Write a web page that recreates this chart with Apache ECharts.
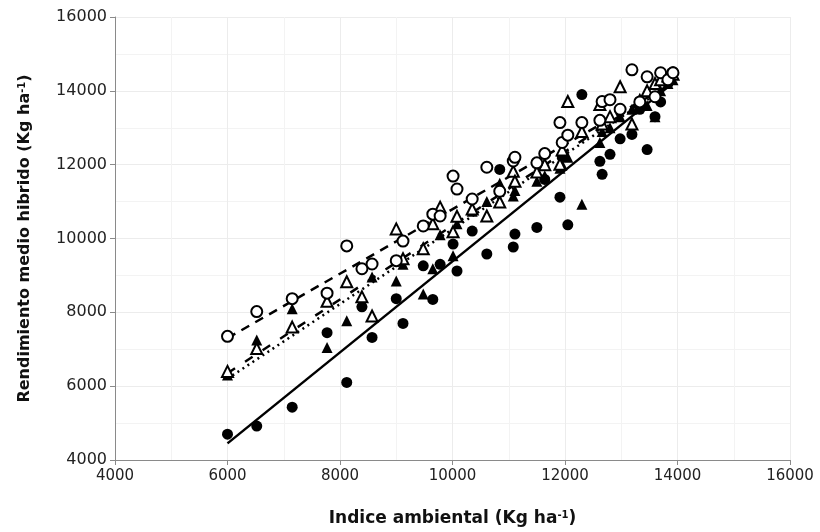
<!DOCTYPE html>
<html><head><meta charset="utf-8">
<script src="https://cdn.jsdelivr.net/npm/echarts@6/dist/echarts.min.js"></script>
<style>html,body{margin:0;padding:0;background:#fff}#c{width:820px;height:532px}</style>
</head><body><div id="c"></div>
<script>
// Environment index (x) shared by all hybrids
const envIndex = [6000,6520,7150,7770,8120,8390,8570,9000,9120,9480,9650,9780,10010,10080,10350,10610,10840,11080,11110,11500,11640,11910,11950,12050,12300,12620,12660,12800,12980,13190,13330,13460,13600,13700,13830,13920];
// Open circles
const openCircle = [7350,8020,8370,8520,9800,9180,9310,9400,9930,10340,10660,10610,11690,11340,11070,11930,11280,12100,12200,12050,12300,13140,12600,12800,13140,13200,13710,13760,13500,14570,13700,14380,13840,14490,14300,14490];
// Open triangles
const openTriangle = [6400,7020,7600,8300,8830,8420,7900,10260,9450,9720,10400,10850,10180,10600,10800,10610,10990,11820,11550,11800,12000,12010,12400,13710,12900,13630,13100,13300,14110,13100,13700,14000,14200,14300,14400,14450];
// Filled triangles
const filledTriangle = [6300,7250,8100,7050,7770,8290,8960,8850,9300,8500,9180,10100,9530,10400,10740,11000,11500,11150,11300,11550,11700,11900,12000,12200,10930,12600,12900,13000,13300,13500,13800,13600,13300,14000,14200,14300];
// Filled circles
const filledCircle = [4700,4920,5430,7450,6100,8150,7320,8370,7700,9260,8350,9300,9850,9120,10200,9580,11870,9770,10120,10300,11600,11120,12230,10370,13900,12090,11740,12280,12700,12820,13500,12410,13300,13700,14200,14520];
// Fitted lines: [x, y] at both ends
const trendOpenCircle = [[6000,7300],[13900,14200]];
const trendOpenTriangle = [[6000,6350],[13950,14300]];
const trendFilledTriangle = [[6000,6200],[13950,14250]];
const trendFilledCircle = [[6000,4450],[13950,14250]];
const axisTicks = {min:4000, max:16000, interval:2000};

const pair = ys => envIndex.map((x,i)=>[x, ys[i]]);
const chart = echarts.init(document.getElementById('c'), null, {renderer:'canvas'});
const openStyle = {color:'#fff', borderColor:'#000', borderWidth:2, opacity:1};
const fillStyle = {color:'#000', borderColor:'#000', borderWidth:0, opacity:1};
const lineSeries = (d, type, w) => ({type:'line', data:d, showSymbol:false, symbol:'none', silent:true,
  lineStyle:{color:'#000', width:w, type:type}, z:1});
const FONT = 'DejaVu Sans, Arial, sans-serif';
const nameStyle = size => ({color:'#111', fontSize:size, fontWeight:'bold', fontFamily:FONT,
    rich:{sup:{fontSize:10, fontWeight:'bold', fontFamily:FONT, verticalAlign:'top', color:'#111', padding:[0,0,6,0]},
          b:{fontSize:size, fontWeight:'bold', fontFamily:FONT, color:'#111'}}});
const axisCommon = {
  min:axisTicks.min, max:axisTicks.max, interval:axisTicks.interval,
  axisLine:{show:true, lineStyle:{color:'#8a8a8a', width:1}},
  axisTick:{show:true, length:5, lineStyle:{color:'#8a8a8a'}},
  splitLine:{show:true, lineStyle:{color:'#ececec', width:1}},
  minorSplitLine:{show:true, lineStyle:{color:'#f3f3f3', width:1}},
  minorTick:{show:false, splitNumber:2}
};
chart.setOption({
  animation:false,
  backgroundColor:'#fff',
  grid:{left:115, right:30, top:17, bottom:70, containLabel:false},
  xAxis:Object.assign({}, axisCommon, {type:'value', name:'{b|Indice ambiental (Kg ha}{sup|-1}{b|)}',
    nameLocation:'middle', nameGap:50, nameTextStyle:nameStyle(17),
    axisLabel:{color:'#222', fontSize:15, fontFamily:FONT, margin:9, formatter:v => String(v)}}),
  yAxis:Object.assign({}, axisCommon, {type:'value', name:'{b|Rendimiento medio hibrido (Kg ha}{sup|-1}{b|)}',
    nameLocation:'middle', nameGap:82, nameTextStyle:nameStyle(16),
    axisLabel:{color:'#222', fontSize:16, fontFamily:FONT, margin:8, formatter:v => String(v)}}),
  series:[
    lineSeries(trendFilledCircle, 'solid', 2.5),
    lineSeries(trendFilledTriangle, [2,4], 2.5),
    lineSeries(trendOpenTriangle, [9,12], 2.5),
    lineSeries(trendOpenCircle, [9,7], 2.5),
    {type:'scatter', data:pair(filledCircle), symbol:'circle', symbolSize:11, itemStyle:fillStyle, z:3},
    {type:'scatter', data:pair(filledTriangle), symbol:'triangle', symbolSize:11, itemStyle:fillStyle, z:3},
    {type:'scatter', data:pair(openTriangle), symbol:'triangle', symbolSize:11, itemStyle:openStyle, z:4},
    {type:'scatter', data:pair(openCircle), symbol:'circle', symbolSize:11, itemStyle:openStyle, z:4}
  ]
});
</script></body></html>
